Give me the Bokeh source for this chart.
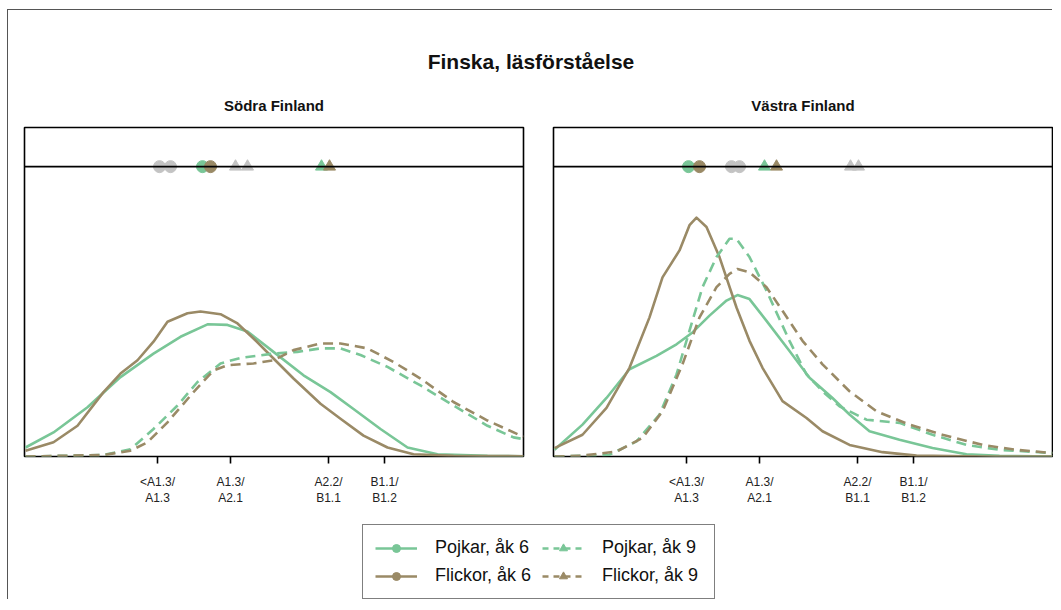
from bokeh.plotting import figure
from bokeh.models import Span, FixedTicker, Legend, LegendItem, Range1d, ColumnDataSource
from bokeh.layouts import column, row
from bokeh.embed import file_html
from bokeh.resources import INLINE

FONT = "Liberation Sans"
GREEN = "#79c697"
BROWN = "#9a8a66"
GRAY = "#c3c3c3"

main_title = "Finska, läsförståelse"
regions = ["Södra Finland", "Västra Finland"]
groups = ["Pojkar, åk 6", "Flickor, åk 6", "Pojkar, åk 9", "Flickor, åk 9"]
tick_pos = [133, 206, 304, 360]
tick_labels = ["<A1.3/\nA1.3", "A1.3/\nA2.1", "A2.2/\nB1.1", "B1.1/\nB1.2"]

# ---- Södra Finland density curves (x = score position, y = density) ----
s_p6_x = [1, 29, 63, 96, 129, 156, 183, 203, 223, 249, 279, 306, 329, 356, 383, 413, 463, 499]
s_p6_y = [0.031, 0.083, 0.170, 0.274, 0.355, 0.413, 0.456, 0.454, 0.431, 0.361, 0.280, 0.222,
          0.164, 0.095, 0.031, 0.008, 0.002, 0.001]
s_f6_x = [1, 29, 53, 79, 96, 113, 129, 143, 163, 176, 196, 213, 229, 249, 269, 296, 316, 339,
          363, 389, 429, 499]
s_f6_y = [0.020, 0.049, 0.106, 0.222, 0.286, 0.332, 0.396, 0.465, 0.494, 0.500, 0.491, 0.459,
          0.407, 0.338, 0.269, 0.182, 0.130, 0.072, 0.031, 0.008, 0.002, 0.001]
s_p9_x = [1, 79, 106, 129, 153, 173, 196, 216, 249, 273, 296, 316, 336, 363, 396, 429, 463, 489, 499]
s_p9_y = [0.0, 0.005, 0.025, 0.095, 0.176, 0.257, 0.321, 0.340, 0.355, 0.361, 0.373, 0.373,
          0.350, 0.309, 0.245, 0.176, 0.106, 0.066, 0.060]
s_f9_x = [1, 79, 106, 123, 143, 169, 189, 203, 229, 249, 269, 296, 316, 343, 369, 396, 429, 463, 499]
s_f9_y = [0.0, 0.005, 0.020, 0.049, 0.118, 0.222, 0.297, 0.315, 0.321, 0.332, 0.367, 0.390,
          0.390, 0.373, 0.326, 0.269, 0.188, 0.124, 0.068]

# ---- Västra Finland density curves ----
v_p6_x = [1, 29, 53, 76, 103, 123, 139, 156, 173, 184, 196, 213, 236, 256, 279, 296, 316, 346,
          379, 413, 446, 499]
v_p6_y = [0.023, 0.110, 0.202, 0.301, 0.347, 0.387, 0.428, 0.486, 0.538, 0.557, 0.543, 0.468,
          0.364, 0.272, 0.202, 0.145, 0.087, 0.058, 0.029, 0.008, 0.002, 0.0]
v_f6_x = [1, 29, 53, 76, 96, 109, 126, 136, 143, 153, 166, 183, 196, 209, 229, 253, 269, 296,
          329, 363, 429, 499]
v_f6_y = [0.029, 0.075, 0.168, 0.306, 0.480, 0.618, 0.711, 0.798, 0.824, 0.792, 0.688, 0.514,
          0.399, 0.306, 0.191, 0.133, 0.087, 0.040, 0.015, 0.003, 0.0, 0.0]
v_p9_x = [1, 56, 83, 106, 123, 136, 149, 163, 176, 183, 196, 213, 236, 253, 269, 286, 313, 346,
          379, 413, 446, 499]
v_p9_y = [0.0, 0.006, 0.052, 0.145, 0.283, 0.434, 0.584, 0.688, 0.751, 0.751, 0.688, 0.572,
          0.399, 0.283, 0.225, 0.173, 0.127, 0.116, 0.075, 0.040, 0.023, 0.012]
v_f9_x = [1, 29, 63, 89, 109, 129, 146, 163, 176, 184, 196, 213, 229, 249, 269, 296, 323, 356,
          389, 429, 463, 499]
v_f9_y = [0.0, 0.003, 0.017, 0.064, 0.156, 0.318, 0.480, 0.584, 0.630, 0.647, 0.636, 0.584,
          0.503, 0.399, 0.318, 0.225, 0.156, 0.110, 0.075, 0.040, 0.023, 0.012]

# ---- group means (positions on the score scale) ----
sodra_means = [178, 186, 297, 305]
vastra_means = [135, 146, 211, 223]

colors = [GREEN, BROWN, GREEN, BROWN]
dashes = ["solid", "solid", "10 6", "10 6"]
markers = ["circle", "circle", "triangle", "triangle"]

MEAN_LEVEL = 1.0


def make_panel(title, curves, own_means, other_means, width, bl, br):
    p = figure(width=width, height=430, output_backend="svg", toolbar_location=None,
               x_range=Range1d(0, 499), y_range=Range1d(0, 1.135), y_axis_type=None,
               min_border_left=bl, min_border_right=br, min_border_top=49,
               min_border_bottom=0, title=title)
    p.title.align = "center"
    p.title.text_font = FONT
    p.title.text_font_size = "15px"
    p.title.text_font_style = "bold"
    p.title.text_color = "#111111"
    p.title.standoff = 27
    p.outline_line_color = "black"
    p.outline_line_width = 1.6
    p.xgrid.visible = False
    p.ygrid.visible = False
    ax = p.xaxis[0]
    ax.ticker = FixedTicker(ticks=tick_pos)
    ax.major_label_overrides = dict(zip(tick_pos, tick_labels))
    ax.axis_line_color = None
    ax.major_tick_in = 0
    ax.major_tick_out = 7
    ax.major_tick_line_color = "black"
    ax.major_tick_line_width = 1.6
    ax.major_label_text_font = FONT
    ax.major_label_text_font_size = "12px"
    ax.major_label_text_color = "#222222"
    ax.major_label_standoff = 11

    for (xs, ys), c, d in zip(curves, colors, dashes):
        p.line(xs, ys, line_color=c, line_width=2.6, line_dash=d, line_join="round")

    p.add_layout(Span(location=MEAN_LEVEL, dimension="width", line_color="black",
                      line_width=1.6))
    for m, mk in zip(other_means, markers):
        p.scatter([m], [MEAN_LEVEL], marker=mk, size=12, fill_color=GRAY, line_color=GRAY)
    for m, mk, c in zip(own_means, markers, colors):
        p.scatter([m], [MEAN_LEVEL], marker=mk, size=12, fill_color=c, line_color=c)
    return p


sodra_curves = [(s_p6_x, s_p6_y), (s_f6_x, s_f6_y), (s_p9_x, s_p9_y), (s_f9_x, s_f9_y)]
vastra_curves = [(v_p6_x, v_p6_y), (v_f6_x, v_f6_y), (v_p9_x, v_p9_y), (v_f9_x, v_f9_y)]

left = make_panel(regions[0], sodra_curves, sodra_means, vastra_means, 530, 16, 15)
right = make_panel(regions[1], vastra_curves, vastra_means, sodra_means, 515, 15, 1)

# ---- main title ----
top = figure(width=1045, height=68, output_backend="svg", toolbar_location=None,
             x_axis_type=None, y_axis_type=None, x_range=Range1d(0, 1), y_range=Range1d(0, 1),
             min_border_left=0, min_border_right=0, min_border_top=63, min_border_bottom=0,
             title=main_title)
top.outline_line_color = None
top.xgrid.visible = False
top.ygrid.visible = False
top.title.align = "center"
top.title.text_font = FONT
top.title.text_font_size = "21px"
top.title.text_font_style = "bold"
top.title.text_color = "#111111"
top.title.standoff = 2

# ---- legend ----
leg = figure(width=1045, height=92, output_backend="svg", toolbar_location=None,
             x_axis_type=None, y_axis_type=None, x_range=Range1d(0, 1), y_range=Range1d(0, 1),
             min_border=0)
leg.outline_line_color = None
leg.xgrid.visible = False
leg.ygrid.visible = False
nan = float("nan")
proxy = ColumnDataSource(data=dict(x=[nan], y=[nan]))
items = []
for g, c, d, mk in zip(groups, colors, dashes, markers):
    lr = leg.line("x", "y", source=proxy, line_color=c, line_width=2.4,
                  line_dash="6 5" if d != "solid" else "solid")
    sr = leg.scatter("x", "y", source=proxy, marker=mk, size=11, fill_color=c, line_color=c)
    items.append(LegendItem(label=g, renderers=[lr, sr]))
legend = Legend(items=items, ncols=2, location=(354, 1),
                border_line_color="black", border_line_width=1.6, label_text_font=FONT,
                label_text_font_size="18px", label_text_color="#111111", glyph_width=42,
                glyph_height=20, label_standoff=18, label_width=100, spacing=7, padding=12,
                margin=0)
leg.add_layout(legend, "center")

layout = column(top, row(left, right, spacing=0), leg, spacing=0,
                styles={"margin-left": "8px", "margin-top": "10px",
                        "box-shadow": "-1px -1px 0 0 #555555"})

open("out.html", "w").write(file_html(layout, INLINE))
